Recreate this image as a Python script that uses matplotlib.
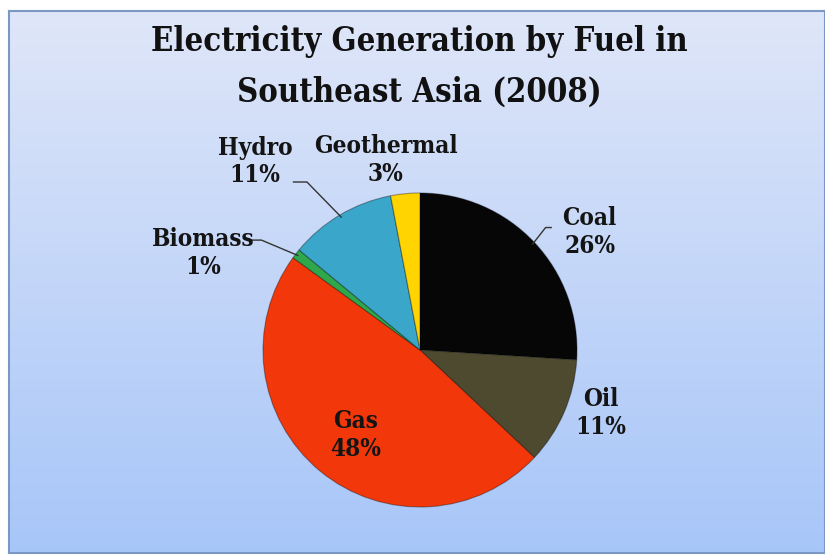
import numpy as np
import matplotlib
matplotlib.use("Agg")
import matplotlib.pyplot as plt

# ---- data ----
fuels = ["Coal", "Oil", "Gas", "Biomass", "Hydro", "Geothermal"]
shares = [26, 11, 48, 1, 11, 3]
colors = ["#060606", "#4e4a30", "#f2380b", "#2fa84c", "#3aa6c9", "#ffd400"]
title = "Electricity Generation by Fuel in\nSoutheast Asia (2008)"

W, H = 825, 560
fig = plt.figure(figsize=(W / 100, H / 100), dpi=100)
fig.patch.set_facecolor("white")

# background frame with vertical gradient
bx0, by0, bx1, by1 = 9 / W, 1 - 553 / H, 1.0, 1 - 11 / H
bg = fig.add_axes([bx0, by0, bx1 - bx0, by1 - by0])
grad = np.linspace(0, 1, 256)[:, None]
top = np.array([0.875, 0.902, 0.973])
bot = np.array([0.655, 0.776, 0.973])
img = top[None, None, :] * (1 - grad[..., None]) + bot[None, None, :] * grad[..., None]
bg.imshow(img, aspect="auto", extent=[0, 1, 0, 1])
bg.set_xlim(0, 1)
bg.set_ylim(0, 1)
bg.set_xticks([])
bg.set_yticks([])
for s in bg.spines.values():
    s.set_color("#7b98c4")
    s.set_linewidth(1.5)

fig.text(0.508, 1 - 67 / H, title, ha="center", va="center", fontsize=23.5,
         fontweight="bold", family="DejaVu Serif", fontstretch="condensed",
         linespacing=1.7, color="#111111")

# pie axes
cx, cy, r = 420, 350, 157
L = 1.6
ax = fig.add_axes([(cx - r * L) / W, 1 - (cy + r * L) / H, 2 * r * L / W, 2 * r * L / H])
wedges, _ = ax.pie(shares, colors=colors, startangle=90, counterclock=False,
                   radius=1.0, wedgeprops=dict(edgecolor=(0, 0, 0, 0.35), linewidth=0.8))
ax.set_xlim(-L, L)
ax.set_ylim(-L, L)
ax.set_aspect("equal")
ax.axis("off")

lab_font = dict(fontsize=17.5, fontweight="bold", family="DejaVu Serif",
                fontstretch="condensed", color="#141414", ha="center", va="center",
                linespacing=1.2)

label_pos = {
    "Coal": (1.08, 0.75),
    "Oil": (1.15, -0.40),
    "Gas": (-0.41, -0.54),
    "Biomass": (-1.38, 0.62),
    "Hydro": (-1.05, 1.20),
    "Geothermal": (-0.22, 1.21),
}
for f, s in zip(fuels, shares):
    x, y = label_pos[f]
    ax.text(x, y, f"{f}\n{s}%", zorder=5, **lab_font)

# leader lines
def mid_angle(i):
    start = 90 - sum(shares[:i]) / 100 * 360
    end = start - shares[i] / 100 * 360
    return np.deg2rad((start + end) / 2)

def leader(i, elbow, end):
    a = mid_angle(i)
    p = (np.cos(a) * 0.98, np.sin(a) * 0.98)
    ax.plot([p[0], elbow[0], end[0]], [p[1], elbow[1], end[1]], color="#333333",
            lw=1.0, zorder=4, solid_capstyle="butt")

leader(0, (0.80, 0.78), (0.84, 0.78))      # Coal
leader(3, (-1.01, 0.70), (-1.08, 0.70))    # Biomass
leader(4, (-0.72, 1.07), (-0.81, 1.07))    # Hydro

fig.savefig("out.png", dpi=100)
